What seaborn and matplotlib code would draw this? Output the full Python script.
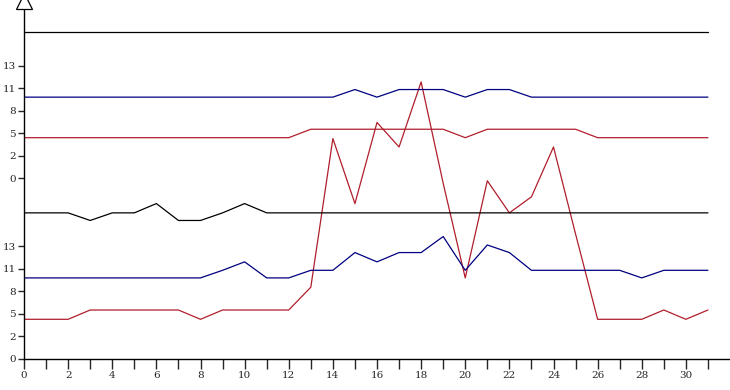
import numpy as np
import pandas as pd

import seaborn as sns
import matplotlib
matplotlib.use('Agg')
import matplotlib.pyplot as plt

# x positions (days)
days = list(range(32))

# lower group of series
low_red = [4.7, 4.7, 4.7, 5.8, 5.8, 5.8, 5.8, 5.8, 4.7, 5.8, 5.8, 5.8, 5.8, 8.5, 26.1, 18.4,
           28.0, 25.1, 32.8, 20.8, 9.6, 21.1, 17.3, 19.2, 25.1, 14.8, 4.7, 4.7, 4.7, 5.8, 4.7, 5.8]
low_blue = [9.6, 9.6, 9.6, 9.6, 9.6, 9.6, 9.6, 9.6, 9.6, 10.5, 11.5, 9.6, 9.6, 10.5, 10.5, 12.6,
            11.5, 12.6, 12.6, 14.5, 10.5, 13.5, 12.6, 10.5, 10.5, 10.5, 10.5, 10.5, 9.6, 10.5, 10.5, 10.5]
low_black = [17.3, 17.3, 17.3, 16.4, 17.3, 17.3, 18.4, 16.4, 16.4, 17.3, 18.4, 17.3, 17.3, 17.3, 17.3, 17.3,
             17.3, 17.3, 17.3, 17.3, 17.3, 17.3, 17.3, 17.3, 17.3, 17.3, 17.3, 17.3, 17.3, 17.3, 17.3, 17.3]

# upper group of series
up_red = [4.8, 4.8, 4.8, 4.8, 4.8, 4.8, 4.8, 4.8, 4.8, 4.8, 4.8, 4.8, 4.8, 5.8, 5.8, 5.8,
          5.8, 5.8, 5.8, 5.8, 4.8, 5.8, 5.8, 5.8, 5.8, 5.8, 4.8, 4.8, 4.8, 4.8, 4.8, 4.8]
up_blue = [9.6, 9.6, 9.6, 9.6, 9.6, 9.6, 9.6, 9.6, 9.6, 9.6, 9.6, 9.6, 9.6, 9.6, 9.6, 10.5,
           9.6, 10.5, 10.5, 10.5, 9.6, 10.5, 10.5, 9.6, 9.6, 9.6, 9.6, 9.6, 9.6, 9.6, 9.6, 9.6]
up_black = [17.3] * 32

# tick labels of each strip
strip_ticks = [0, 8/3, 16/3, 8, 32/3, 40/3]
strip_labels = ['0', '2', '5', '8', '11', '13']
x_labels = [str(d) if d % 2 == 0 else '' for d in days]

TOP_OFFSET = 21.4
RED = '#b01e2c'
BLUE = '#000080'
BLACK = '#000000'

sns.set_style('white')
plt.rcParams['font.family'] = ['DejaVu Serif']

fig = plt.figure(figsize=(7.3, 3.9), dpi=100)
ax = fig.add_axes([24/730, 31/390, 706/730, 359/390])

series = [(low_red, 0, RED), (low_blue, 0, BLUE), (low_black, 0, BLACK),
          (up_red, TOP_OFFSET, RED), (up_blue, TOP_OFFSET, BLUE), (up_black, TOP_OFFSET, BLACK)]
for vals, off, col in series:
    sns.lineplot(x=days, y=np.array(vals) + off, color=col, lw=0.9, ax=ax)

ax.set_xlim(0, 32)
ax.set_ylim(0, 42.5)
ax.set_xticks(days)
ax.set_xticklabels(x_labels, fontsize=7.5)
yt = strip_ticks + [t + TOP_OFFSET for t in strip_ticks]
ax.set_yticks(yt)
ax.set_yticklabels(strip_labels * 2, fontsize=7.5)
ax.tick_params(axis='x', length=7, width=1, pad=2, direction='out', bottom=True)
ax.tick_params(axis='y', length=4, width=1, pad=2, direction='out', left=True)

for s in ['top', 'right']:
    ax.spines[s].set_visible(False)
for s in ['left', 'bottom']:
    ax.spines[s].set_color('black')
    ax.spines[s].set_linewidth(1)

# arrow head on top of the y axis
ax.plot([0], [42.4], marker='^', ms=11, mfc='white', mec='black', mew=0.9, clip_on=False, zorder=5)

ax.set_xlabel('')
ax.set_ylabel('')
plt.savefig('out.png', dpi=100)
